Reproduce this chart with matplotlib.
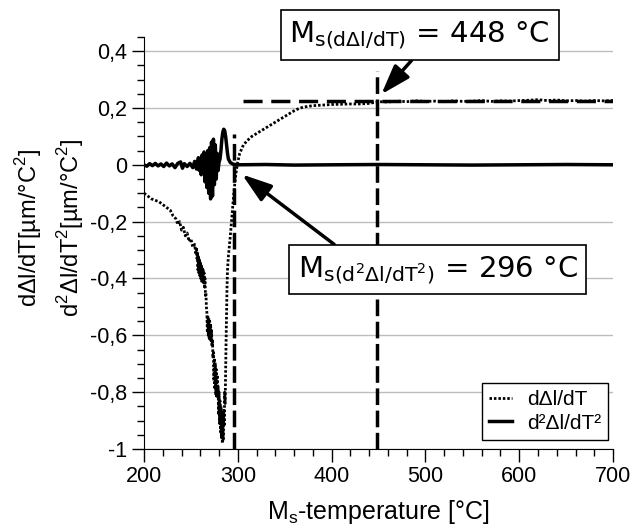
import matplotlib
matplotlib.use("Agg")
import matplotlib.pyplot as plt
from matplotlib.ticker import MultipleLocator, FuncFormatter

plt.rcParams['font.family'] = ['Liberation Sans', 'DejaVu Sans']
plt.rcParams['axes.unicode_minus'] = False

# first derivative dΔl/dT
d1_temp = [200, 204, 208, 212, 216, 220, 224, 228, 231, 234, 236, 238, 240, 242, 244,
           246, 248, 250, 252, 254, 255, 256, 256.5,
           257, 257.5, 258, 258.5, 259, 259.5, 260, 260.5, 261, 261.5, 262, 262.5,
           263, 263.5, 264, 264.5, 265, 265.5, 266, 266.5,
           267, 267.5, 268, 268.5, 269, 269.5, 270, 270.5, 271, 271.5, 272, 272.5, 273, 273.5,
           274, 274.5, 275, 275.5, 276, 276.5, 277, 277.5, 278, 278.5, 279,
           279.5, 280, 280.5, 281, 281.5, 282, 282.5, 283, 283.5, 284, 284.5, 285, 285.5,
           286, 286.5, 287, 287.5, 288, 288.5, 289, 290, 292, 294, 296, 298,
           300, 302, 306, 310, 315, 320, 325, 330, 335, 340, 345, 350, 355, 360, 365,
           370, 380, 390, 400, 410, 420, 430, 440, 450, 460, 470, 480, 490, 500, 510,
           520, 530, 540, 550, 560, 570, 580, 590, 600, 610, 620, 630, 640, 650, 660,
           670, 680, 690, 700]
d1_val = [-0.10, -0.11, -0.12, -0.125, -0.13, -0.14, -0.15, -0.16, -0.18, -0.19, -0.21, -0.20, -0.23, -0.22, -0.25,
          -0.24, -0.27, -0.26, -0.29, -0.28, -0.31, -0.29, -0.33,
          -0.31, -0.37, -0.32, -0.38, -0.33, -0.39, -0.34, -0.40, -0.35, -0.41, -0.36, -0.41,
          -0.37, -0.42, -0.38, -0.43, -0.40, -0.46, -0.45, -0.50,
          -0.52, -0.59, -0.53, -0.60, -0.54, -0.61, -0.55, -0.62, -0.56, -0.62, -0.58, -0.64, -0.62, -0.68,
          -0.66, -0.76, -0.68, -0.79, -0.70, -0.81, -0.72, -0.82, -0.74, -0.82, -0.78,
          -0.88, -0.80, -0.91, -0.83, -0.94, -0.85, -0.96, -0.87, -0.98, -0.88, -0.97, -0.86, -0.92,
          -0.80, -0.84, -0.72, -0.62, -0.52, -0.43, -0.37, -0.32, -0.25, -0.17, -0.09, -0.03,
          0.01, 0.04, 0.07, 0.085, 0.10, 0.11, 0.12, 0.13, 0.14, 0.15, 0.16, 0.17, 0.18, 0.19, 0.198,
          0.203, 0.208, 0.21, 0.212, 0.213, 0.214, 0.214, 0.216, 0.222, 0.221, 0.224, 0.222, 0.225, 0.223, 0.224,
          0.222, 0.225, 0.223, 0.224, 0.226, 0.223, 0.225, 0.224, 0.226, 0.227, 0.229, 0.226, 0.228, 0.225, 0.226,
          0.224, 0.226, 0.225, 0.226]

# second derivative d²Δl/dT²
d2_temp = [200, 203, 206, 209, 212, 215, 218, 221, 224, 227, 230, 233, 236, 239, 241,
           243, 246, 249, 252, 254, 256, 258, 259, 260, 261, 262, 263, 264, 265, 266,
           267, 268, 269, 270, 271, 272, 273, 274, 275, 276, 277, 278, 279, 280, 281,
           282, 283, 284, 285, 286, 287, 288, 289, 290, 292, 295, 300, 330, 360, 400,
           450, 500, 550, 600, 650, 700]
d2_val = [0, -0.005, 0.004, -0.003, 0.005, -0.004, 0.003, -0.006, 0.006, -0.004, 0.003, -0.01, 0.005, 0.01, -0.012,
          0.004, -0.006, 0.005, -0.01, 0.012, -0.015, 0.025, -0.02, 0.02, -0.035, 0.035, -0.01, 0.045, -0.06, 0.02,
          -0.08, 0.05, -0.10, 0.06, -0.12, 0.08, -0.11, 0.09, -0.07, 0.07, -0.05, 0.04, -0.02, 0.01, 0.02,
          0.05, 0.09, 0.115, 0.125, 0.12, 0.10, 0.07, 0.04, 0.02, 0.008, 0.002, 0, 0.001, -0.001, 0,
          0.001, 0, -0.001, 0, 0.001, 0]

ms_d1 = 448      # °C, from dΔl/dT
ms_d2 = 296      # °C, from d²Δl/dT²
plateau = 0.225  # level of the dΔl/dT plateau


def comma_fmt(v, pos):
    return f"{round(v, 6):g}".replace('.', ',')


fig = plt.figure(figsize=(6.33, 5.27), dpi=100)
ax = fig.add_axes([0.2275, 0.148, 0.741, 0.782])

ax.plot(d1_temp, d1_val, color='black', lw=2.0, ls=(0, (0.9, 0.7)), label='dΔl/dT', zorder=3)
ax.plot(d2_temp, d2_val, color='black', lw=2.5, label='d²Δl/dT²', zorder=4)

# Ms markers
ax.plot([ms_d2, ms_d2], [-1, 0.11], color='black', lw=2.5, ls=(0, (4.8, 1.6)), zorder=5)
ax.plot([ms_d1, ms_d1], [-1, 0.33], color='black', lw=2.5, ls=(0, (4.8, 1.6)), zorder=5)
ax.plot([305, 700], [plateau, plateau], color='black', lw=2.5, ls=(0, (5.5, 2.5)), zorder=5)

ax.set_xlim(200, 700)
ax.set_ylim(-1, 0.45)
ax.xaxis.set_major_locator(MultipleLocator(100))
ax.xaxis.set_minor_locator(MultipleLocator(20))
ax.yaxis.set_major_locator(MultipleLocator(0.2))
ax.yaxis.set_minor_locator(MultipleLocator(0.05))
ax.yaxis.set_major_formatter(FuncFormatter(comma_fmt))
ax.tick_params(which='major', direction='out', length=9, width=1, labelsize=15.5, pad=3)
ax.tick_params(which='minor', direction='out', length=5, width=1)
ax.grid(axis='y', which='major', color='#bdbdbd', lw=1)
ax.set_axisbelow(True)
for side in ['top', 'right']:
    ax.spines[side].set_visible(False)

ax.set_xlabel(r'M$_\mathregular{s}$-temperature [°C]', fontsize=18, labelpad=8)
fig.text(29 / 633, 0.567, r'dΔl/dT[µm/°C$^\mathregular{2}$]', rotation=90,
         ha='center', va='center', fontsize=17)
fig.text(71 / 633, 0.567, r'd$^\mathregular{2}$Δl/dT$^\mathregular{2}$[µm/°C$^\mathregular{2}$]',
         rotation=90, ha='center', va='center', fontsize=17)

box = dict(boxstyle='square,pad=0.3', fc='white', ec='black', lw=1.2)
arrow = dict(arrowstyle='-|>,head_length=0.9,head_width=0.3', color='black', lw=2.5,
             mutation_scale=20, shrinkA=0, shrinkB=0)
ax.annotate(r'M$_\mathregular{s(d\Delta l/dT)}$ = 448 °C', xy=(ms_d1 + 5, 0.248),
            xytext=(494, 0.456), ha='center', va='center', fontsize=21,
            family='DejaVu Sans', bbox=box, annotation_clip=False,
            arrowprops=dict(arrow, relpos=(0.5, 0)), zorder=6)
ax.annotate(r'M$_\mathregular{s(d^2\Delta l/dT^2)}$ = 296 °C', xy=(ms_d2 + 8.5, -0.034),
            xytext=(513, -0.369), ha='center', va='center', fontsize=21,
            family='DejaVu Sans', bbox=box, annotation_clip=False,
            arrowprops=dict(arrow, relpos=(0.174, 1)), zorder=6)

leg = ax.legend(loc='lower right', bbox_to_anchor=(0.99, 0.022), borderaxespad=0,
                fontsize=15, handlelength=1.1, handletextpad=0.7, labelspacing=0.2,
                borderpad=0.35, fancybox=False, framealpha=1, edgecolor='black')
leg.get_frame().set_linewidth(1)

fig.savefig('out.png', dpi=100)
